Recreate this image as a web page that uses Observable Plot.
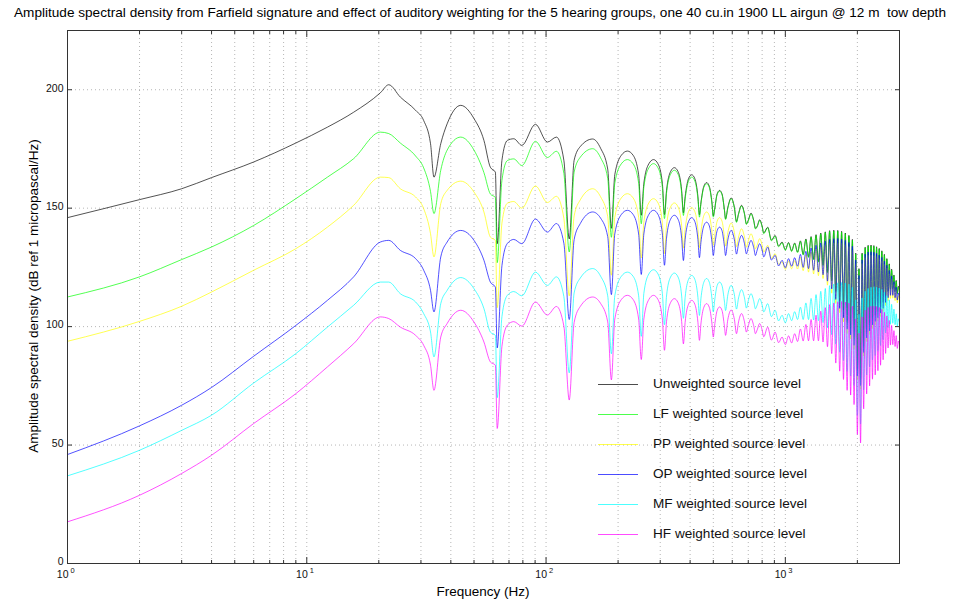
<!DOCTYPE html>
<html><head><meta charset="utf-8">
<script src="https://cdn.jsdelivr.net/npm/d3@7"></script>
<script src="https://cdn.jsdelivr.net/npm/@observablehq/plot@0.6"></script>
<style>
body{margin:0;background:#fff;font-family:"Liberation Sans",Arial,Helvetica,sans-serif;}
#wrap{position:relative;width:960px;height:602px;overflow:hidden;background:#fff;}
#title{position:absolute;left:0;top:5px;width:960px;text-align:center;font-size:13.6px;line-height:16px;color:#000;white-space:nowrap;}
#chart{position:absolute;left:0;top:20px;}
#xlabel{position:absolute;left:483px;top:591px;transform:translate(-50%,-50%);font-size:13.5px;color:#000;white-space:nowrap;}
#ylabel{position:absolute;left:33px;top:296px;transform:translate(-50%,-50%) rotate(-90deg);font-size:13.5px;color:#000;white-space:nowrap;}
.lg-line{position:absolute;left:598px;width:40px;height:0;}
.lg-text{position:absolute;left:653px;font-size:13.6px;line-height:16px;color:#111;white-space:nowrap;transform:translateY(-50%);}
</style>
</head><body>
<div id="wrap">
  <div id="title">Amplitude spectral density from Farfield signature and effect of auditory weighting for the 5 hearing groups, one 40 cu.in 1900 LL airgun @ 12 m&nbsp; tow depth</div>
  <div id="chart"></div>
  <div id="xlabel">Frequency (Hz)</div>
  <div id="ylabel">Amplitude spectral density (dB ref 1 micropascal/Hz)</div>
  <div id="legend"></div>
</div>
<script>
// ---- data ----
const freq = [
  1, 2, 3, 4, 6, 9, 12.2, 15.7, 20.3, 22, 24.6, 28.5, 30.8, 32.9, 34, 36.3, 38.6, 44, 50, 55, 58.5, 61.4, 62.5,
  65.4, 68.9, 73.3, 79.2, 90.3, 101.3, 110.5, 118.7, 125,
  131, 139, 156.6, 169, 181, 187.5,
  193.75, 206.25, 218.75, 231.25, 243.75, 250,
  256.25, 268.75, 281.25, 293.75, 306.25, 312.5,
  318.75, 331.25, 343.75, 356.25, 368.75, 375,
  381.25, 393.75, 406.25, 418.75, 431.25, 437.5,
  443.75, 456.25, 468.75, 481.25, 493.75, 500,
  506.25, 518.75, 531.25, 543.75, 556.25, 562.5,
  575, 593.75, 612.5, 625,
  637.5, 656.25, 675, 687.5,
  700, 718.75, 737.5, 750,
  762.5, 781.25, 800, 812.5,
  843.75, 875, 906.25, 937.5, 968.75, 1000,
  1031.25, 1062.5, 1093.75, 1125, 1156.25, 1187.5, 1218.75, 1250, 1281.25, 1312.5, 1343.75, 1375, 1406.25, 1437.5, 1468.75, 1500,
  1531.25, 1562.5, 1593.75, 1625, 1656.25, 1687.5, 1718.75, 1750, 1781.25, 1812.5, 1843.75, 1875, 1906.25, 1937.5, 1968.75, 2000,
  2031.25, 2062.5, 2093.75, 2125, 2156.25, 2187.5, 2218.75, 2250, 2281.25, 2312.5, 2343.75, 2375, 2406.25, 2437.5, 2468.75, 2500,
  2531.25, 2562.5, 2593.75, 2625, 2656.25, 2687.5, 2718.75, 2750, 2781.25, 2812.5, 2843.75, 2875, 2906.25, 2937.5, 2968.75, 3000
];

const unweighted = [
  146.0, 153.6, 158.2, 162.9, 169.5, 177.5, 184.2, 190.5, 198.7, 202.1, 196.9, 191.3, 187.0, 177.2, 163.1, 177.2, 185.6, 193.4, 187.8, 178.6, 167.3, 165.2, 135,
  170.2, 178.6, 179.3, 176.5, 185.4, 177.9, 180.0, 170.2, 137,
  170.2, 176.0, 179.2, 175.3, 166.5, 141.5,
  164.1, 172.3, 174.1, 172.3, 164.1, 147.0,
  160.5, 168.7, 170.5, 168.7, 160.5, 147.3,
  157.4, 165.4, 167.1, 165.4, 157.4, 148.0,
  154.8, 162.4, 164.1, 162.4, 154.8, 147.2,
  152.2, 159.2, 160.8, 159.2, 152.2, 146.7,
  149.5, 156.0, 157.5, 156.0, 149.5, 145.5,
  150.3, 154.3, 150.3, 144.3,
  147.7, 151.2, 147.7, 143.4,
  144.9, 147.9, 144.9, 141.5,
  142.4, 145.1, 142.4, 139.5,
  142.0, 136.5, 138.5, 134.0, 135.7, 132.5,
  135.5, 132.0, 135.3, 131.5, 136.2, 130.5, 137.0, 129.5, 138.0, 128.5, 138.8, 127.5, 139.5, 126.0, 140.0, 123.0,
  140.5, 119.5, 140.7, 115.0, 140.6, 111.0, 140.2, 107.0, 139.5, 102.0, 138.5, 99.5, 136.8, 95.0, 131.0, 82.0,
  124.5, 78.0, 131.0, 92.0, 133.5, 98.0, 134.3, 101.0, 134.4, 103.5, 134.2, 105.0, 133.7, 106.5, 133.0, 108.5,
  132.0, 110.5, 130.5, 113.0, 128.7, 115.0, 126.5, 116.0, 124.2, 116.0, 121.8, 115.0, 119.5, 114.0, 117.0, 115.3
];

const lfWeighted = [
  112.5, 121.0, 128.3, 133.6, 142.7, 154.0, 163.1, 170.9, 182.1, 181.5, 177.5, 172.0, 167.0, 157.0, 147.7, 166.0, 174.5, 180.0, 174.5, 165.0, 156.0, 154.5, 127,
  161.7, 170.1, 170.8, 168.0, 178.2, 171.4, 174.0, 164.7, 131.5,
  165.2, 171.5, 175.1, 171.3, 162.6, 137.7,
  160.5, 168.7, 170.5, 168.7, 160.5, 143.4,
  158.8, 167.0, 168.8, 167.0, 158.8, 145.6,
  156.3, 164.3, 166.0, 164.3, 156.3, 146.9,
  153.8, 161.4, 163.1, 161.4, 153.8, 146.2,
  151.7, 158.7, 160.3, 158.7, 151.7, 146.2,
  149.2, 155.7, 157.2, 155.7, 149.2, 145.2,
  150.0, 154.0, 150.0, 144.0,
  147.4, 150.9, 147.4, 143.1,
  144.6, 147.6, 144.6, 141.2,
  142.1, 144.8, 142.1, 139.2,
  141.7, 136.2, 138.2, 133.7, 135.4, 132.2,
  135.2, 131.7, 135.0, 131.2, 135.9, 130.2, 136.7, 129.2, 137.7, 128.2, 138.5, 127.2, 139.2, 125.7, 139.7, 122.7,
  140.2, 119.2, 140.4, 114.7, 140.3, 110.7, 139.9, 106.7, 139.2, 101.7, 138.2, 99.2, 136.5, 94.7, 130.7, 81.7,
  124.2, 77.7, 130.7, 91.7, 133.2, 97.7, 134.0, 100.7, 134.1, 103.2, 133.9, 104.7, 133.4, 106.2, 132.7, 108.2,
  131.7, 110.2, 130.2, 112.7, 128.4, 114.7, 126.2, 115.7, 123.9, 115.7, 121.5, 114.7, 119.2, 113.7, 116.7, 115.0
];

const ppWeighted = [
  93.8, 102.2, 108.6, 114.6, 123.8, 132.9, 142.0, 151.2, 163.1, 162.9, 158.2, 154.7, 149.8, 139.2, 129.4, 151.9, 157.5, 161.4, 156.8, 148.4, 137.8, 136.4, 108,
  143.7, 152.1, 152.8, 150.0, 159.4, 152.4, 155.0, 145.7, 113,
  146.7, 153.5, 158.2, 154.8, 146.5, 121.7,
  146.1, 154.3, 156.1, 154.3, 146.1, 129.0,
  144.0, 152.2, 154.0, 152.2, 144.0, 130.8,
  142.5, 150.5, 152.2, 150.5, 142.5, 133.1,
  140.9, 148.5, 150.2, 148.5, 140.9, 133.3,
  139.8, 146.8, 148.4, 146.8, 139.8, 134.3,
  138.0, 144.5, 146.0, 144.5, 138.0, 134.0,
  139.7, 143.7, 139.7, 133.7,
  137.8, 141.3, 137.8, 133.5,
  136.2, 139.2, 136.2, 132.8,
  134.4, 137.1, 134.4, 131.5,
  134.3, 128.8, 130.8, 126.3, 127.3, 124.1,
  127.7, 124.4, 127.9, 124.3, 129.2, 123.6, 130.3, 123.0, 131.6, 122.2, 132.7, 121.5, 133.6, 120.3, 134.4, 117.5,
  135.1, 114.1, 135.4, 109.8, 135.4, 105.9, 135.2, 102.0, 134.6, 97.1, 133.7, 94.8, 132.1, 90.4, 126.5, 77.5,
  120.0, 73.6, 126.6, 87.6, 129.1, 93.7, 130.0, 96.7, 130.1, 99.2, 129.9, 100.8, 129.5, 102.3, 128.8, 104.3,
  127.8, 106.3, 126.4, 108.9, 124.6, 110.9, 122.4, 111.9, 120.1, 112.0, 117.8, 111.0, 115.5, 110.0, 113.0, 111.3
];

const opWeighted = [
  46.0, 58.1, 66.8, 74.3, 87.5, 100.5, 111.1, 121.0, 135.7, 136.4, 132.2, 128.7, 123.8, 115.3, 106.2, 129.4, 135.7, 140.6, 136.4, 128.0, 118.8, 116.7, 91,
  125.7, 135.1, 136.8, 135.0, 145.4, 139.9, 143.5, 135.2, 103,
  136.7, 143.5, 148.4, 145.8, 138.0, 113.5,
  139.1, 147.3, 149.1, 147.3, 139.1, 122.0,
  139.1, 147.3, 149.1, 147.3, 139.1, 125.9,
  137.3, 145.3, 147.0, 145.3, 137.3, 127.9,
  136.7, 144.3, 146.0, 144.3, 136.7, 129.1,
  135.5, 142.5, 144.1, 142.5, 135.5, 130.0,
  134.0, 140.5, 142.0, 140.5, 134.0, 130.0,
  136.6, 140.6, 136.6, 130.6,
  135.0, 138.5, 135.0, 130.7,
  133.4, 136.4, 133.4, 130.0,
  132.3, 135.0, 132.3, 129.4,
  133.6, 128.1, 130.1, 125.6, 128.0, 124.8,
  128.7, 125.5, 129.1, 125.5, 130.5, 125.0, 131.8, 124.5, 133.2, 123.8, 134.3, 123.1, 135.3, 121.9, 136.1, 119.2,
  136.8, 115.9, 137.1, 111.5, 137.2, 107.7, 137.0, 103.8, 136.4, 98.9, 135.5, 96.5, 133.9, 92.1, 128.1, 79.1,
  121.6, 75.1, 128.1, 89.1, 130.6, 95.2, 131.5, 98.2, 131.6, 100.7, 131.4, 102.2, 130.9, 103.7, 130.2, 105.7,
  129.2, 107.7, 127.7, 110.2, 125.9, 112.2, 123.7, 113.2, 121.4, 113.2, 119.0, 112.2, 116.7, 111.2, 114.2, 112.5
];

const mfWeighted = [
  37.0, 47.8, 56.2, 62.6, 76.2, 88.6, 99.8, 109.0, 118.8, 118.8, 113.9, 110.4, 105.5, 97.7, 87.2, 109.7, 115.3, 120.7, 116.0, 107.6, 97.7, 96.3, 70,
  104.2, 113.2, 114.8, 113.0, 123.0, 117.4, 121.0, 112.7, 80.5,
  114.2, 120.5, 124.5, 121.3, 113.0, 88.5,
  113.0, 121.2, 123.0, 121.2, 113.0, 95.9,
  114.0, 122.2, 124.0, 122.2, 114.0, 100.8,
  112.9, 120.9, 122.6, 120.9, 112.9, 103.5,
  112.3, 119.9, 121.6, 119.9, 112.3, 104.7,
  111.7, 118.7, 120.3, 118.7, 111.7, 106.2,
  110.8, 117.3, 118.8, 117.3, 110.8, 106.8,
  113.4, 117.4, 113.4, 107.4,
  112.1, 115.6, 112.1, 107.8,
  110.9, 113.9, 110.9, 107.5,
  109.1, 111.8, 109.1, 106.2,
  109.7, 104.2, 106.9, 102.4, 104.8, 101.6,
  105.5, 102.5, 106.3, 103.0, 108.2, 103.0, 110.0, 103.0, 111.9, 102.8, 113.5, 102.5, 114.9, 101.7, 116.1, 99.5,
  117.3, 96.6, 118.0, 92.6, 118.5, 89.2, 118.6, 85.7, 118.4, 81.1, 117.9, 79.1, 116.6, 75.1, 111.3, 62.5,
  105.2, 58.9, 112.1, 73.3, 114.9, 79.6, 116.1, 83.0, 116.6, 85.9, 116.8, 87.8, 116.6, 89.6, 116.3, 92.0,
  115.7, 94.4, 114.6, 97.3, 113.1, 99.6, 111.3, 101.0, 109.4, 101.4, 107.4, 100.8, 105.4, 100.1, 103.3, 101.8
];

const hfWeighted = [
  17.6, 28.8, 38.0, 45.7, 59.1, 71.7, 83.0, 92.8, 104.1, 103.4, 99.8, 96.3, 92.1, 83.7, 73.1, 95.6, 101.3, 106.9, 101.9, 93.5, 85.1, 83.7, 57,
  91.7, 100.6, 102.1, 100.2, 110.4, 104.9, 108.5, 100.2, 69,
  101.7, 108.5, 112.5, 109.8, 102.0, 77.5,
  103.2, 111.4, 113.2, 111.4, 103.2, 86.1,
  103.2, 111.4, 113.2, 111.4, 103.2, 90.0,
  102.1, 110.1, 111.8, 110.1, 102.1, 92.7,
  101.8, 109.4, 111.1, 109.4, 101.8, 94.2,
  101.1, 108.1, 109.7, 108.1, 101.1, 95.6,
  100.3, 106.8, 108.3, 106.8, 100.3, 96.3,
  103.0, 107.0, 103.0, 97.0,
  102.0, 105.5, 102.0, 97.7,
  100.4, 103.4, 100.4, 97.0,
  98.6, 101.3, 98.6, 95.7,
  99.8, 94.3, 97.7, 93.2, 95.6, 92.4,
  96.1, 93.1, 97.0, 93.7, 99.0, 93.9, 100.9, 94.0, 103.0, 94.0, 104.8, 94.0, 106.5, 93.5, 108.0, 91.5,
  109.3, 88.6, 110.0, 84.6, 110.5, 81.2, 110.6, 77.7, 110.4, 73.1, 109.9, 71.1, 108.6, 67.1, 103.3, 54.5,
  97.2, 50.9, 104.1, 65.3, 106.9, 71.6, 108.1, 75.0, 108.6, 77.8, 108.7, 79.6, 108.5, 81.4, 108.1, 83.7,
  107.3, 86.0, 106.1, 88.7, 104.5, 91.0, 102.6, 92.2, 100.5, 92.4, 98.3, 91.6, 96.2, 90.8, 93.9, 92.3
];

const seriesNames = ["Unweighted source level", "LF weighted source level", "PP weighted source level",
                     "OP weighted source level", "MF weighted source level", "HF weighted source level"];
const seriesValues = [unweighted, lfWeighted, ppWeighted, opWeighted, mfWeighted, hfWeighted];
const seriesColors = ["#000000", "#00ff00", "#ffff00", "#0000ff", "#00ffff", "#ff00ff"];

const yTicks = [0, 50, 100, 150, 200];
const xMajor = [1, 10, 100, 1000];
const xMinor = [2, 3, 4, 5, 6, 7, 8, 9, 20, 30, 40, 50, 60, 70, 80, 90,
                200, 300, 400, 500, 600, 700, 800, 900, 2000, 3000];
const xExponents = ["0", "1", "2", "3"];

// ---- chart ----
const table = seriesValues.map((vals, k) =>
  freq.map((f, i) => ({f, v: vals[i], s: seriesNames[k]})));

const gridStyle = {stroke: "#8c8c8c", strokeOpacity: 0.8, strokeWidth: 0.8, strokeDasharray: "1,3"};
const axisColor = "#333";

const chart = Plot.plot({
  width: 960, height: 582,
  marginLeft: 67, marginRight: 61, marginTop: 10, marginBottom: 39,
  x: {type: "log", domain: [1, 3000]},
  y: {domain: [0, 225]},
  style: {fontFamily: "'Liberation Sans', Arial, Helvetica, sans-serif", fontSize: "11px", color: "#111", background: "#fff"},
  marks: [
    Plot.gridX(xMajor.concat(xMinor), gridStyle),
    Plot.gridY(yTicks.slice(1), gridStyle),
    ...table.map((rows, k) => Plot.line(rows, {
      x: "f", y: "v", stroke: seriesColors[k], strokeWidth: 1, strokeOpacity: 0.68, curve: "monotone-x"
    })),
    Plot.frame({stroke: axisColor, strokeWidth: 1}),
    Plot.axisY(yTicks, {anchor: "left", tickSize: -5, tickFormat: () => "", stroke: axisColor, label: null}),
    Plot.axisY(yTicks, {anchor: "right", tickSize: -5, tickFormat: () => "", stroke: axisColor, label: null}),
    Plot.axisY(yTicks, {anchor: "left", tickSize: 0, tickPadding: 4, dy: -1.5, fontSize: 10.5, label: null}),
    Plot.axisX(xMajor, {anchor: "bottom", tickSize: -6, tickFormat: () => "", stroke: axisColor, label: null}),
    Plot.axisX(xMajor, {anchor: "top", tickSize: -6, tickFormat: () => "", stroke: axisColor, label: null}),
    Plot.axisX(xMinor, {anchor: "bottom", tickSize: -3, tickFormat: () => "", stroke: axisColor, label: null}),
    Plot.axisX(xMinor, {anchor: "top", tickSize: -3, tickFormat: () => "", stroke: axisColor, label: null}),
    Plot.text(xMajor, {x: d => d, text: () => "10", frameAnchor: "bottom", dy: 14.5, dx: 1, textAnchor: "end", fontSize: 10.5, fill: "#111"}),
    Plot.text(xMajor, {x: d => d, text: (d, i) => xExponents[i], frameAnchor: "bottom", dy: 9.5, dx: 3, textAnchor: "start", fontSize: 7.5, fill: "#111"})
  ]
});
document.getElementById("chart").appendChild(chart);

// ---- legend (HTML, inside the axes at lower right) ----
const legend = document.getElementById("legend");
const legendRowY = [384, 414, 444, 474, 504, 534];
seriesNames.forEach((name, k) => {
  const line = document.createElement("div");
  line.className = "lg-line";
  line.style.top = (legendRowY[k]) + "px";
  line.style.borderTop = "1.5px solid " + seriesColors[k];
  line.style.opacity = "0.7";
  legend.appendChild(line);
  const t = document.createElement("div");
  t.className = "lg-text";
  t.style.top = legendRowY[k] + "px";
  t.textContent = name;
  legend.appendChild(t);
});
</script>
</body></html>
